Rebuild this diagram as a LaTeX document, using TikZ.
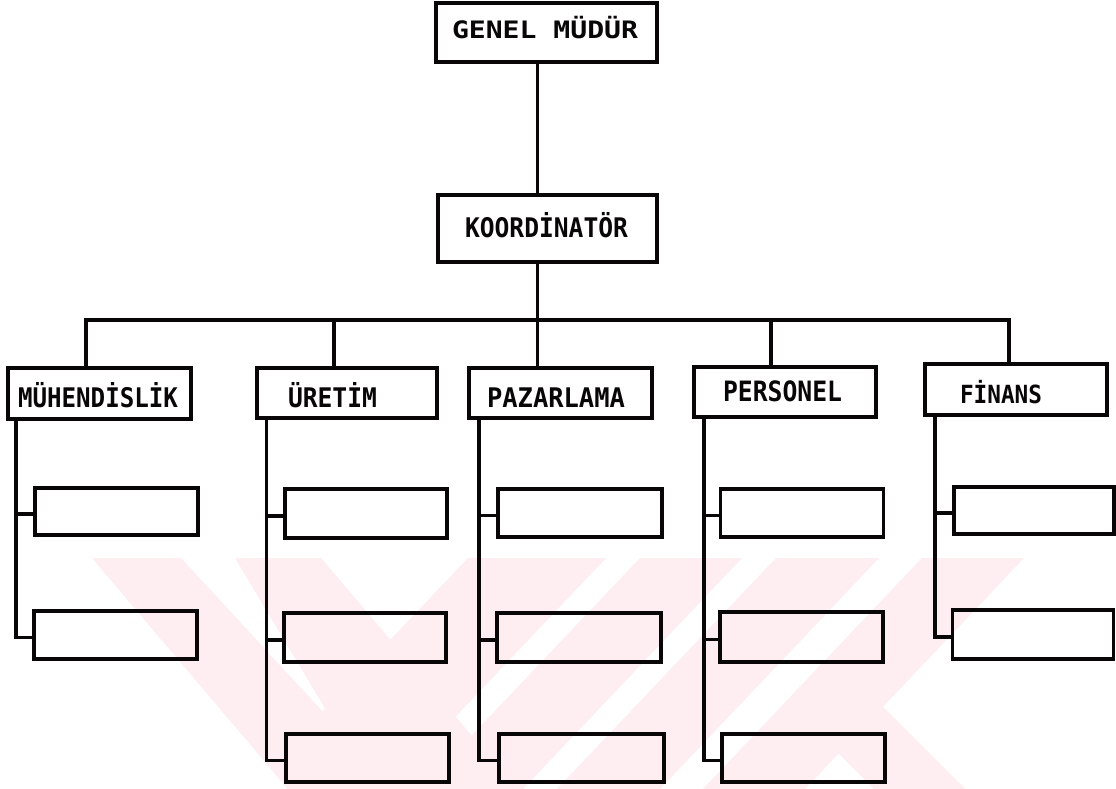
\documentclass[tikz,border=0pt]{standalone}
\usepackage{fontspec}
\usepackage{graphicx}
\newfontfamily\chartfont{DejaVu Sans Mono}
% #1 font size, #2 printed width, #3 text
\newcommand\chartlabel[3]{{\fontsize{#1}{#1}\selectfont\chartfont\bfseries\resizebox{#2}{\height}{#3}}}
\definecolor{inkline}{RGB}{8,6,6}
\definecolor{wmpink}{RGB}{254,237,241}
\tikzset{
  box/.style={draw=inkline, line width=3.3pt, rectangle, inner sep=0pt, outer sep=0pt},
  link/.style={draw=inkline, line width=3.3pt},
  lbl/.style={inner sep=0pt, outer sep=0pt, anchor=base west, text=inkline},
  wmfill/.style={fill=wmpink},
}
\begin{document}
\begin{tikzpicture}[x=1pt,y=-1pt]
\useasboundingbox (0,0) rectangle (1116,789);
\fill[white] (0,0) rectangle (1116,789);

% faint striped emblem in the lower half
\begin{scope}
  \clip (92,558) -- (1116,558) -- (1116,789) -- (288,789) -- cycle;
  \fill[wmfill] (92,558) -- (181,558) -- (335,725) -- (235,558) -- (321,558)
                -- (517,789) -- (288,789) -- cycle;
  \fill[wmfill] (468,558) -- (606,558) -- (387,789) -- (249,789) -- cycle;
  \fill[wmfill] (640,558) -- (742,558) -- (523,789) -- (421,789) -- cycle;
  \fill[wmfill] (776,558) -- (879,558) -- (660,789) -- (557,789) -- cycle;
  \fill[wmfill] (922,558) -- (1024,558) -- (805,789) -- (703,789) -- cycle;
  \fill[wmfill] (800,715) -- (883,707) -- (965,789) -- (874,789) -- (838,753) -- cycle;
\end{scope}

% top levels
\node[box, minimum width=221pt, minimum height=59pt] (gm) at (546.5,32.5) {};
\node[box, minimum width=219pt, minimum height=67pt] (ko) at (547.5,228.5) {};
\node[lbl] (gm-t) at (452,38.5) {\chartlabel{24pt}{186pt}{GENEL MÜDÜR}};
\node[lbl] (ko-t) at (465,237) {\chartlabel{27pt}{163pt}{KOORDİNATÖR}};

% departments
\node[box, minimum width=183pt, minimum height=51pt] (mu) at (99.5,393.5) {};
\node[box, minimum width=180pt, minimum height=50pt] (ur) at (347,393) {};
\node[box, minimum width=183pt, minimum height=50pt] (pz) at (560.5,393) {};
\node[box, minimum width=182pt, minimum height=50pt] (pe) at (785,392) {};
\node[box, minimum width=182pt, minimum height=51pt] (fi) at (1016,389.5) {};
\node[lbl] (mu-t) at (18,407) {\chartlabel{27pt}{160pt}{MÜHENDİSLİK}};
\node[lbl] (ur-t) at (288,407) {\chartlabel{27pt}{89pt}{ÜRETİM}};
\node[lbl] (pz-t) at (487,407) {\chartlabel{27pt}{138pt}{PAZARLAMA}};
\node[lbl] (pe-t) at (723,401) {\chartlabel{28pt}{119pt}{PERSONEL}};
\node[lbl] (fi-t) at (960,403) {\chartlabel{25pt}{82pt}{FİNANS}};

% empty sub-unit boxes
\node[box, minimum width=163pt, minimum height=47pt] (mu1) at (116.5,511.5) {};
\node[box, minimum width=163pt, minimum height=48pt] (mu2) at (115.5,635) {};
\node[box, minimum width=162pt, minimum height=49pt] (ur1) at (366,513.5) {};
\node[box, minimum width=162pt, minimum height=49pt] (ur2) at (365,637.5) {};
\node[box, minimum width=163pt, minimum height=48pt] (ur3) at (367.5,758) {};
\node[box, minimum width=164pt, minimum height=48pt] (pz1) at (580,513) {};
\node[box, minimum width=164pt, minimum height=49pt] (pz2) at (579,637.5) {};
\node[box, minimum width=165pt, minimum height=48pt] (pz3) at (581.5,758) {};
\node[box, minimum width=163pt, minimum height=48pt] (pe1) at (802,513) {};
\node[box, minimum width=163pt, minimum height=50pt] (pe2) at (801.5,637) {};
\node[box, minimum width=163pt, minimum height=48pt] (pe3) at (803.5,758) {};
\node[box, minimum width=160pt, minimum height=47pt] (fi1) at (1034,510.5) {};
\node[box, minimum width=161pt, minimum height=49pt] (fi2) at (1033,634.5) {};

% trunk and bus
\coordinate (trunk) at (537.5,320);
\coordinate (dmu) at (86,320);
\coordinate (dur) at (334,320);
\coordinate (dpe) at (771,320);
\coordinate (dfi) at (1009,320);
\draw[link] (gm.south -| trunk) -- (ko.north -| trunk);
\draw[link] (ko.south -| trunk) -- (pz.north -| trunk);
\draw[link] (mu.north -| dmu) -- (dmu) -- (dfi) -- (fi.north -| dfi);
\draw[link] (dur) -- (ur.north -| dur);
\draw[link] (dpe) -- (pe.north -| dpe);

% stems down the left side of each department
\coordinate (smu) at (16,0);
\coordinate (sur) at (266.5,0);
\coordinate (spz) at (479,0);
\coordinate (spe) at (704,0);
\coordinate (sfi) at (935,0);
\foreach \c in {mu1,mu2,ur1,ur2,ur3,pz1,pz2,pz3,pe1,pe2,pe3,fi1,fi2}
  \coordinate (j\c) at ([yshift=-2.5pt]\c.west);
\foreach \c/\s in {mu1/smu, ur1/sur, ur2/sur, pz1/spz, pz2/spz, pe1/spe, pe2/spe, fi1/sfi}
  \draw[link] (j\c) -- (j\c -| \s);
\draw[link] (mu.south -| smu) |- (jmu2);
\draw[link] (ur.south -| sur) |- (jur3);
\draw[link] (pz.south -| spz) |- (jpz3);
\draw[link] (pe.south -| spe) |- (jpe3);
\draw[link] (fi.south -| sfi) |- (jfi2);
\end{tikzpicture}
\end{document}
